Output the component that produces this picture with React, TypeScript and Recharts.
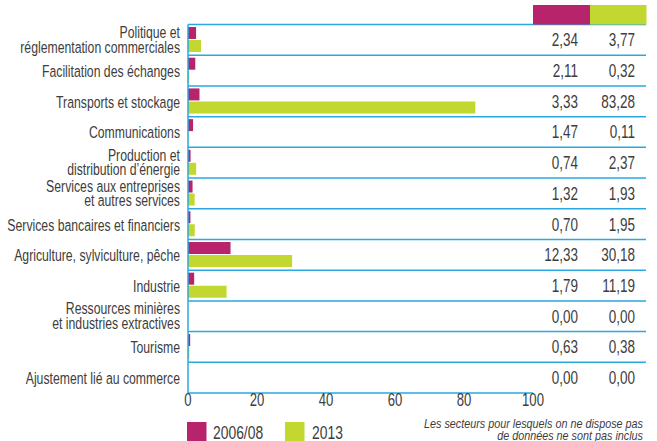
import { Bar, BarChart, CartesianGrid, XAxis, YAxis } from "recharts";

const categories = [
  "Politique et\nréglementation commerciales",
  "Facilitation des échanges",
  "Transports et stockage",
  "Communications",
  "Production et\ndistribution d’énergie",
  "Services aux entreprises\net autres services",
  "Services bancaires et financiers",
  "Agriculture, sylviculture, pêche",
  "Industrie",
  "Ressources minières\net industries extractives",
  "Tourisme",
  "Ajustement lié au commerce",
];
const values2006 = [2.34, 2.11, 3.33, 1.47, 0.74, 1.32, 0.7, 12.33, 1.79, 0, 0.63, 0];
const values2013 = [3.77, 0.32, 83.28, 0.11, 2.37, 1.93, 1.95, 30.18, 11.19, 0, 0.38, 0];
const seriesNames = ["2006/08", "2013"];
const xTicks = [0, 20, 40, 60, 80, 100];
const noteLines = [
  "Les secteurs pour lesquels on ne dispose pas",
  "de données ne sont pas inclus",
];

const MAGENTA = "#b7246b";
const GREEN = "#c2d831";
const BLUE = "#29a9e0";
const TEXT = "#3d3d3d";
const FONT = "'Liberation Sans', Arial, sans-serif";
const SQUEEZE = 0.75;

const W = 657;
const H = 441;
const TOP = 24.5;
const PLOT_BOTTOM = 393;
const X_AXIS_H = 30;

const data = categories.map((name, i) => ({
  name,
  a: values2006[i],
  b: values2013[i],
}));

const fmt = (v: number) => v.toFixed(2).replace(".", ",");

// condensed look: squeeze the text horizontally around its anchor point.
// lines after the first are stacked with tspans inside the same <text>
const CondText = ({
  x,
  y,
  size,
  anchor = "end",
  italic = false,
  sx = SQUEEZE,
  lines,
  step = 14.5,
}: any) => (
  <text
    transform={`translate(${x} ${y}) scale(${sx} 1)`}
    textAnchor={anchor}
    fontSize={size}
    fontFamily={FONT}
    fontStyle={italic ? "italic" : "normal"}
    fill={TEXT}
  >
    {(Array.isArray(lines) ? lines : [lines]).map((l: string, i: number) => (
      <tspan key={i} x={0} dy={i === 0 ? 0 : step}>
        {l}
      </tspan>
    ))}
  </text>
);

const LeftTick = (props: any) => {
  const { x, y, payload } = props;
  const lines = String(payload.value).split("\n");
  const step = 14.5;
  const first = lines.length === 1 ? 6.5 : -(lines.length - 1) * (step / 2) + 5.5;
  return <CondText x={x} y={y + first} size={17} sx={0.72} lines={lines} step={step} />;
};

const RightTick = (props: any) => {
  const { x, y, payload } = props;
  const idx = categories.indexOf(payload.value);
  return (
    <g>
      <CondText x={x + 45} y={y + 6.5} size={18} lines={fmt(values2006[idx])} />
      <CondText x={x + 102} y={y + 6.5} size={18} lines={fmt(values2013[idx])} />
    </g>
  );
};

const BottomTick = (props: any) => {
  const { x, y, payload } = props;
  return <CondText x={x} y={y + 12.5} size={17.5} anchor="middle" lines={String(payload.value)} />;
};

const rowLines = ({ offset }: any) => {
  const top = offset?.top ?? TOP;
  const h = offset?.height ?? PLOT_BOTTOM - TOP;
  const n = categories.length;
  return categories.map((_, i) => top + (i * h) / n);
};

export default function App() {
  return (
    <div
      style={{
        position: "absolute",
        left: 0,
        top: 0,
        width: W,
        height: H,
        background: "#fff",
      }}
    >
      <BarChart
        width={W}
        height={H}
        data={data}
        layout="vertical"
        margin={{ top: TOP, right: 0, left: 8, bottom: H - PLOT_BOTTOM - X_AXIS_H }}
        barCategoryGap={2.5}
        barGap={1}
      >
        <CartesianGrid
          vertical={false}
          stroke={BLUE}
          strokeWidth={1.5}
          x={188}
          width={458}
          horizontalCoordinatesGenerator={rowLines}
        />
        <XAxis
          type="number"
          domain={[0, 100]}
          ticks={xTicks}
          height={X_AXIS_H}
          axisLine={{ stroke: BLUE, strokeWidth: 1.5 }}
          tickLine={false}
          tickSize={0}
          tickMargin={0}
          tick={<BottomTick />}
        />
        <YAxis
          yAxisId="left"
          type="category"
          dataKey="name"
          width={180}
          interval={0}
          axisLine={{ stroke: BLUE, strokeWidth: 1.5 }}
          tickLine={false}
          tickSize={0}
          tickMargin={8}
          tick={<LeftTick />}
        />
        <YAxis
          yAxisId="right"
          orientation="right"
          type="category"
          dataKey="name"
          width={124}
          interval={0}
          axisLine={false}
          tickLine={false}
          tickSize={0}
          tickMargin={0}
          tick={<RightTick />}
        />
        <Bar yAxisId="left" dataKey="a" name={seriesNames[0]} fill={MAGENTA} isAnimationActive={false} />
        <Bar yAxisId="left" dataKey="b" name={seriesNames[1]} fill={GREEN} isAnimationActive={false} />
      </BarChart>
      <svg
        width={W}
        height={H}
        style={{ position: "absolute", left: 0, top: 0, pointerEvents: "none" }}
      >
        <rect x={533} y={5} width={57} height={19.5} fill={MAGENTA} />
        <rect x={590} y={5} width={56.5} height={19.5} fill={GREEN} />
        <rect x={187} y={422} width={19.5} height={19.5} fill={MAGENTA} />
        <CondText x={213} y={439} size={18.5} anchor="start" lines={seriesNames[0]} />
        <rect x={285} y={422} width={19.5} height={19.5} fill={GREEN} />
        <CondText x={312} y={439} size={18.5} anchor="start" lines={seriesNames[1]} />
        <CondText x={643} y={428} size={12} italic sx={0.9} lines={noteLines} step={12.3} />
      </svg>
    </div>
  );
}
